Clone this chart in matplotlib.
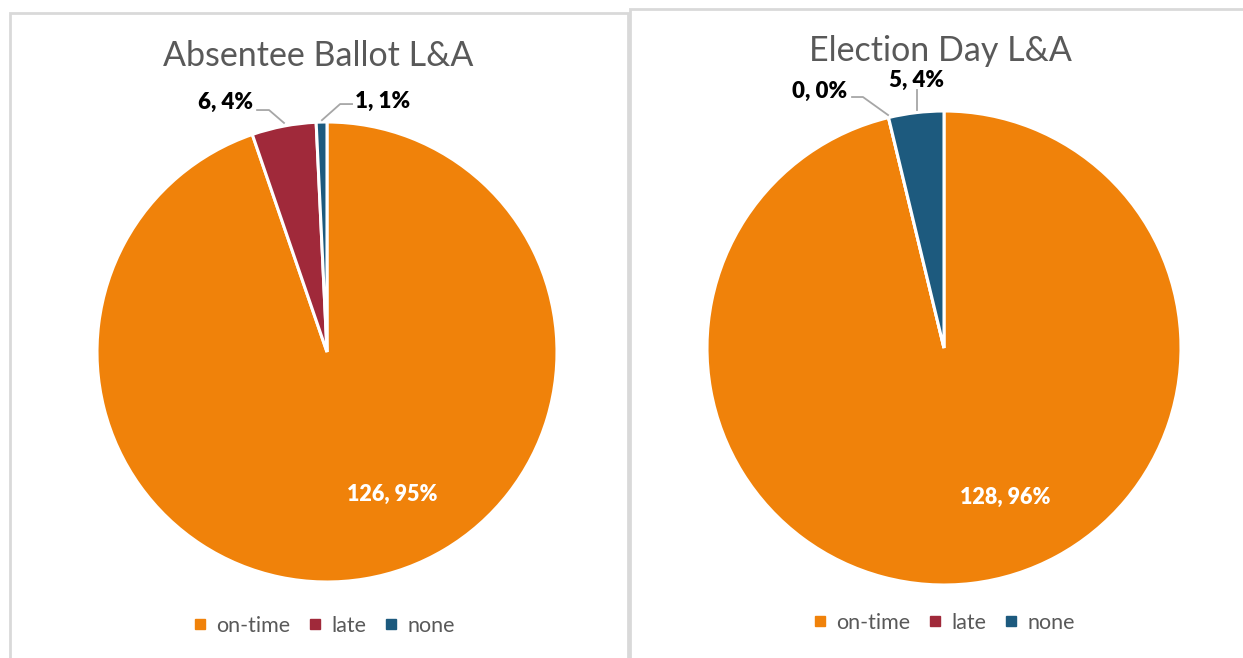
import matplotlib
matplotlib.use("Agg")
import matplotlib.pyplot as plt
from matplotlib.lines import Line2D
from matplotlib.patches import Rectangle

plt.rcParams['font.family'] = ['Lato', 'DejaVu Sans']

categories = ["on-time", "late", "none"]
colors = ["#F0820A", "#A0293A", "#1D5A7E"]

left_title = "Absentee Ballot L&A"
left_values = [126, 6, 1]
left_pcts = ["95%", "4%", "1%"]

right_title = "Election Day L&A"
right_values = [128, 0, 5]
right_pcts = ["96%", "0%", "4%"]

W, H = 1243, 658
fig = plt.figure(figsize=(W / 100, H / 100), dpi=100)
fig.patch.set_facecolor("white")

def px_axes(cx, cy, r):
    return fig.add_axes([(cx - r) / W, (H - cy - r) / H, 2 * r / W, 2 * r / H])

# panel borders
border = "#D9D9D9"
fig.add_artist(Rectangle((10 / W, -0.1), 618 / W, 1.1 - 13 / H, transform=fig.transFigure,
                         fill=False, edgecolor=border, linewidth=2))
fig.add_artist(Rectangle((630 / W, -0.1), 700 / W, 1.1 - 9 / H, transform=fig.transFigure,
                         fill=False, edgecolor=border, linewidth=2))

def draw_pie(ax, values, pcts, inner_pos, outer):
    ax.pie(values, colors=colors, startangle=90, counterclock=False, radius=1,
           wedgeprops=dict(edgecolor="white", linewidth=2.2))
    ax.set_xlim(-1, 1)
    ax.set_ylim(-1, 1)
    ax.set_aspect("equal")
    ax.axis("off")
    labels = [f"{v}, {p}" for v, p in zip(values, pcts)]
    ax.text(inner_pos[0], inner_pos[1], labels[0], color="white", fontsize=15.5,
            fontweight="heavy", ha="center", va="center")
    for idx, (tx, ty), path in outer:
        ax.text(tx, ty, labels[idx], color="black", fontsize=16, fontweight="heavy",
                ha="center", va="center", clip_on=False)
        xs = [p[0] for p in path]
        ys = [p[1] for p in path]
        ax.plot(xs, ys, color="#A6A6A6", linewidth=1.3, clip_on=False)

axL = px_axes(327, 352, 230)
draw_pie(axL, left_values, left_pcts, (0.283, -0.617), [
    (1, (-0.443, 1.087), [(-0.304, 1.052), (-0.252, 1.052), (-0.187, 0.996)]),
    (2, (0.243, 1.091), [(0.109, 1.078), (0.057, 1.078), (-0.022, 1.008)]),
])

axR = px_axes(944, 348, 237)
draw_pie(axR, right_values, right_pcts, (0.257, -0.629), [
    (1, (-0.523, 1.084), [(-0.388, 1.059), (-0.342, 1.059), (-0.236, 0.983)]),
    (2, (-0.114, 1.131), [(-0.114, 1.089), (-0.114, 1.004)]),
])

title_color = "#595959"
fig.text(318.5 / W, 1 - 56 / H, left_title, fontsize=24.5, color=title_color,
         ha="center", va="center")
fig.text(940 / W, 1 - 51 / H, right_title, fontsize=24.5, color=title_color,
         ha="center", va="center")

handles = [Line2D([], [], linestyle="none", marker="s", markersize=6.5,
                  markerfacecolor=c, markeredgecolor=c) for c in colors]
for cx, cy in [(322, 626), (942, 623)]:
    fig.legend(handles, categories, loc="center", bbox_to_anchor=(cx / W, 1 - cy / H),
               ncol=3, frameon=False, fontsize=15.5, labelcolor=title_color,
               handletextpad=0.25, columnspacing=0.65, handlelength=1.0,
               borderpad=0, borderaxespad=0)

fig.savefig("out.png", dpi=100)
